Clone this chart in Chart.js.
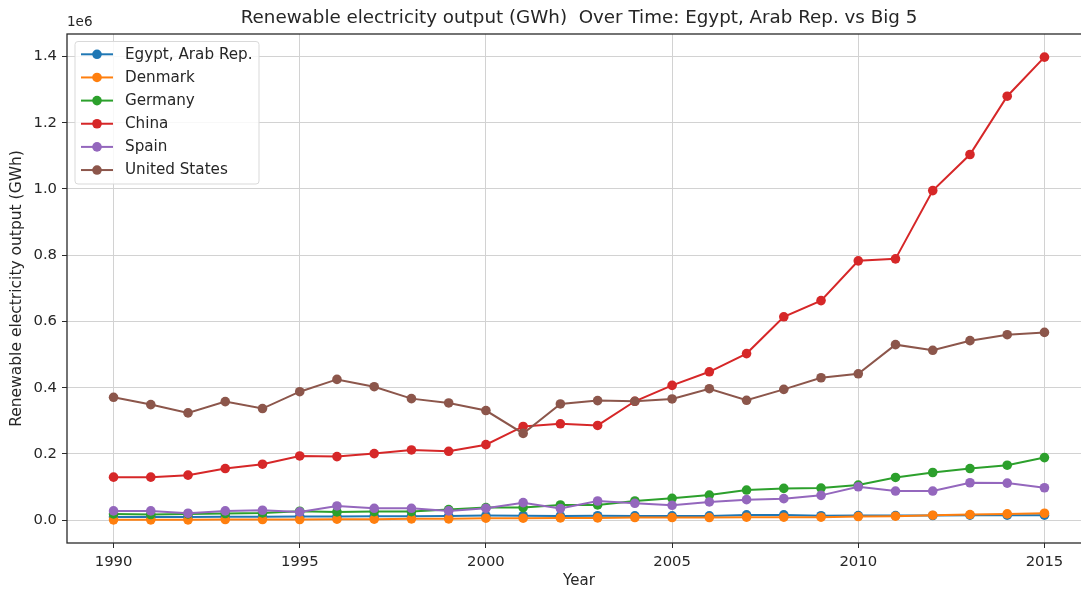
<!DOCTYPE html>
<html>
<head>
<meta charset="utf-8">
<script src="https://cdn.jsdelivr.net/npm/chart.js@4/dist/chart.umd.min.js"></script>
<style>
  html, body { margin: 0; padding: 0; background: #ffffff; overflow: hidden; }
  #wrap { width: 1081px; height: 589px; overflow: hidden; }
  canvas { display: block; }
</style>
</head>
<body>
<div id="wrap"><canvas id="chart" width="1100" height="589"></canvas></div>
<script>
// Renewable electricity output (GWh), 1990-2015
const years = [1990, 1991, 1992, 1993, 1994, 1995, 1996, 1997, 1998, 1999, 2000, 2001, 2002,
               2003, 2004, 2005, 2006, 2007, 2008, 2009, 2010, 2011, 2012, 2013, 2014, 2015];

const egypt = [10000, 10000, 10000, 10500, 10500, 11000, 11000, 12000, 12000, 12500, 14000, 13500, 13000,
               13500, 13000, 13000, 13000, 16000, 16000, 13500, 14000, 14000, 14000, 15000, 15000, 15000];
const denmark = [1000, 1000, 1000, 2000, 2000, 2000, 3000, 3000, 4000, 4000, 6000, 6000, 7000,
                 7000, 8000, 8000, 8000, 9000, 9000, 9000, 11000, 12000, 15000, 17000, 19000, 21000];
const germany = [19000, 17000, 19000, 20000, 22000, 27000, 25000, 26000, 26000, 32000, 38000, 38000, 46000,
                 46000, 58000, 66000, 76000, 91000, 96000, 97000, 106000, 129000, 144000, 156000, 166000, 189000];
const china = [130000, 130000, 136000, 156000, 169000, 194000, 192000, 201000, 212000, 208000, 228000, 283000, 291000,
               286000, 359000, 407000, 448000, 503000, 614000, 663000, 783000, 789000, 995000, 1104000, 1280000, 1398000];
const spain = [28000, 28000, 21000, 28000, 30000, 25000, 43000, 36000, 36000, 28000, 36000, 53000, 35000,
               58000, 51000, 45000, 55000, 62000, 65000, 75000, 101000, 88000, 88000, 113000, 112000, 98000];
const unitedStates = [371000, 349000, 324000, 358000, 337000, 388000, 425000, 403000, 367000, 354000, 331000, 262000, 351000,
                      361000, 359000, 366000, 397000, 362000, 395000, 430000, 442000, 530000, 513000, 542000, 560000, 567000];

const seriesNames = ['Egypt, Arab Rep.', 'Denmark', 'Germany', 'China', 'Spain', 'United States'];
const seriesValues = [egypt, denmark, germany, china, spain, unitedStates];
const seriesColors = ['#1f77b4', '#ff7f0e', '#2ca02c', '#d62728', '#9467bd', '#8c564b'];

const xTickValues = [1990, 1995, 2000, 2005, 2010, 2015];
const yTickValues = [0, 200000, 400000, 600000, 800000, 1000000, 1200000, 1400000];
const yTickLabels = ['0.0', '0.2', '0.4', '0.6', '0.8', '1.0', '1.2', '1.4'];

const titleText = 'Renewable electricity output (GWh)  Over Time: Egypt, Arab Rep. vs Big 5';
const yTitle = 'Renewable electricity output (GWh)';
const xTitle = 'Year';
const offsetText = '1e6';

// autoscale with 5% margins on each side
const allVals = seriesValues.flat();
const yLo = Math.min(...allVals), yHi = Math.max(...allVals);
const yPad = 0.05 * (yHi - yLo);
const xPad = 0.05 * (years[years.length - 1] - years[0]);

const FONT = '"DejaVu Sans", sans-serif';
const TEXT = '#262626';
const MARKER_R = 4.8;

const datasets = seriesNames.map((name, i) => ({
  label: name,
  data: years.map((yr, k) => ({ x: yr, y: seriesValues[i][k] })),
  borderColor: seriesColors[i],
  backgroundColor: seriesColors[i],
  pointBackgroundColor: seriesColors[i],
  pointBorderWidth: 0,
  pointRadius: MARKER_R,
  borderWidth: 2,
  tension: 0,
  fill: false,
  order: seriesNames.length - i
}));

const decorations = {
  id: 'decorations',
  afterDatasetsDraw(chart) {
    const { ctx, chartArea: a } = chart;
    ctx.save();
    // axes frame
    ctx.strokeStyle = '#2a2a2a';
    ctx.lineWidth = 1.3;
    ctx.strokeRect(a.left, a.top, a.right - a.left, a.bottom - a.top);

    // legend box
    const lx = 75, ly = 41.5, lw = 184, lh = 142.5;
    ctx.fillStyle = 'rgba(255,255,255,0.85)';
    ctx.strokeStyle = '#d9d9d9';
    ctx.lineWidth = 1;
    ctx.beginPath();
    ctx.roundRect(lx, ly, lw, lh, 3);
    ctx.fill();
    ctx.stroke();
    ctx.font = '15.2px ' + FONT;
    ctx.textBaseline = 'middle';
    ctx.textAlign = 'left';
    chart.data.datasets.forEach((ds, i) => {
      const cy = 54.3 + i * 23.15;
      ctx.strokeStyle = ds.borderColor;
      ctx.lineWidth = 2;
      ctx.beginPath();
      ctx.moveTo(81, cy);
      ctx.lineTo(113, cy);
      ctx.stroke();
      ctx.fillStyle = ds.borderColor;
      ctx.beginPath();
      ctx.arc(97, cy, MARKER_R, 0, Math.PI * 2);
      ctx.fill();
      ctx.fillStyle = TEXT;
      ctx.fillText(ds.label, 125, cy + 0.5);
    });

    // titles
    ctx.fillStyle = TEXT;
    ctx.textAlign = 'center';
    ctx.textBaseline = 'middle';
    ctx.font = '18.3px ' + FONT;
    ctx.fillText(titleText, (a.left + a.right) / 2, 18);
    ctx.font = '15px ' + FONT;
    ctx.fillText(xTitle, (a.left + a.right) / 2, 581);
    ctx.textAlign = 'left';
    ctx.font = '13.5px ' + FONT;
    ctx.fillText(offsetText, a.left, 22);
    ctx.translate(17, (a.top + a.bottom) / 2);
    ctx.rotate(-Math.PI / 2);
    ctx.textAlign = 'center';
    ctx.font = '15.5px ' + FONT;
    ctx.fillText(yTitle, 0, 0);
    ctx.restore();
  }
};

new Chart(document.getElementById('chart'), {
  type: 'line',
  data: { datasets },
  options: {
    responsive: false,
    animation: false,
    events: [],
    layout: { padding: { top: 34, left: 0, right: 9, bottom: 0 } },
    plugins: { legend: { display: false }, tooltip: { enabled: false }, title: { display: false } },
    scales: {
      x: {
        type: 'linear',
        min: years[0] - xPad,
        max: years[years.length - 1] + xPad,
        afterFit(scale) { scale.height = 46; },
        afterBuildTicks(scale) { scale.ticks = xTickValues.map(v => ({ value: v })); },
        border: { display: false },
        grid: { color: '#d2d2d2', lineWidth: 1, drawTicks: true, tickLength: 5, tickColor: '#2a2a2a' },
        ticks: {
          color: TEXT, font: { family: FONT, size: 14.8 }, padding: 5,
          maxRotation: 0, autoSkip: false,
          callback: v => String(v)
        }
      },
      y: {
        type: 'linear',
        min: yLo - yPad,
        max: yHi + yPad,
        afterFit(scale) { scale.width = 67; },
        afterBuildTicks(scale) { scale.ticks = yTickValues.map(v => ({ value: v })); },
        border: { display: false },
        grid: { color: '#d2d2d2', lineWidth: 1, drawTicks: true, tickLength: 5, tickColor: '#2a2a2a' },
        ticks: {
          color: TEXT, font: { family: FONT, size: 14.8 }, padding: 5,
          autoSkip: false,
          callback: v => yTickLabels[yTickValues.indexOf(v)]
        }
      }
    }
  },
  plugins: [decorations]
});
</script>
</body>
</html>
